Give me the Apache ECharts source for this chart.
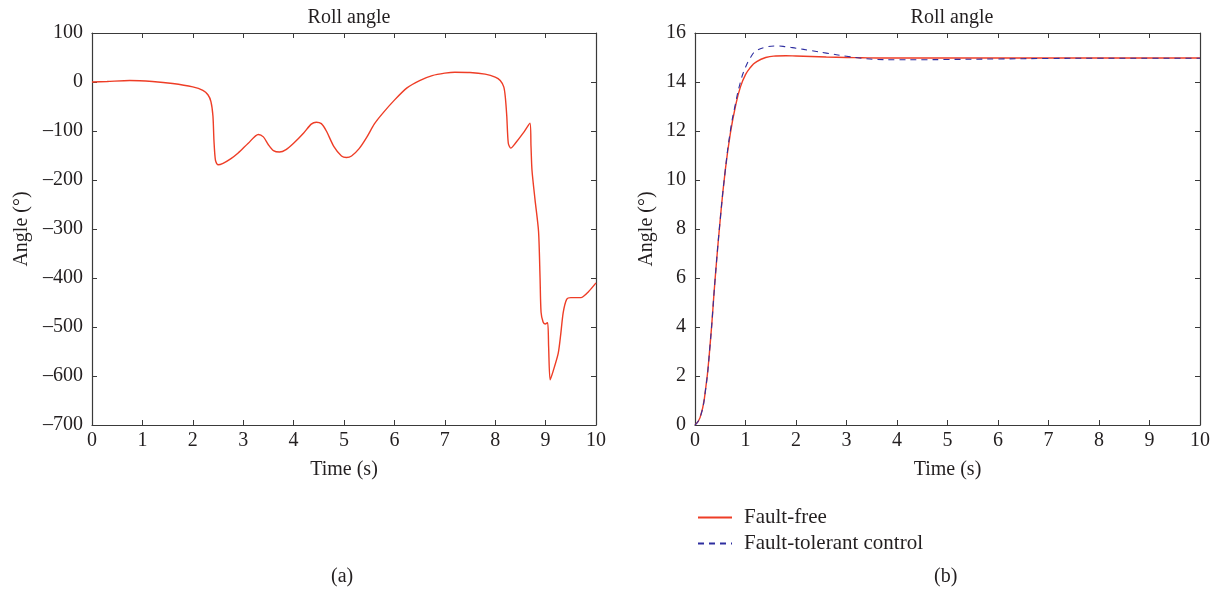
<!DOCTYPE html>
<html>
<head>
<meta charset="utf-8">
<script src="https://cdn.jsdelivr.net/npm/echarts@6/dist/echarts.min.js"></script>
<style>
html,body{margin:0;padding:0;background:#fff;}
#c{width:1223px;height:597px;}
</style>
</head>
<body>
<div id="c"></div>
<script>
// ---- data ----
const titleA = 'Roll angle';
const titleB = 'Roll angle';
const xName = 'Time (s)';
const yName = 'Angle (°)';
const seriesNames = ['Fault-free', 'Fault-tolerant control'];

const timeA = [0,0.3,0.75,1.2,1.6,2.0,2.2,2.3,2.36,2.4,2.42,2.45,2.5,2.6,2.75,2.9,3.1,3.3,3.4,3.5,3.6,3.72,3.85,4.0,4.2,4.35,4.45,4.55,4.65,4.8,4.95,5.05,5.15,5.3,5.45,5.6,5.75,6.0,6.25,6.5,6.75,7.0,7.2,7.5,7.8,8.0,8.1,8.17,8.2,8.23,8.26,8.31,8.4,8.55,8.69,8.71,8.73,8.79,8.86,8.89,8.91,8.95,8.99,9.04,9.06,9.09,9.15,9.25,9.3,9.35,9.42,9.5,9.7,9.85,10];
const rollA = [0,1,3,1,-3,-10,-17,-26,-40,-70,-120,-160,-169,-166,-157,-145,-125,-107,-112,-128,-140,-143,-138,-125,-104,-86,-82,-85,-100,-132,-151,-154,-151,-136,-113,-86,-66,-37,-12,3,13,18,20,19.5,16,10,3,-10,-30,-70,-125,-135,-125,-105,-84,-130,-180,-240,-305,-400,-470,-490,-494,-491,-540,-608,-590,-554,-515,-470,-443,-440,-440,-428,-410];

const timeB = [0,0.1,0.2,0.3,0.4,0.5,0.6,0.7,0.8,0.9,1.0,1.1,1.2,1.4,1.6,1.8,2.0,2.3,2.6,3.0,3.3,3.6,4,4.5,5,6,7,8,9,10];
const faultFree = [0,0.3,1.3,3.3,6.0,8.4,10.4,11.9,13.0,13.8,14.3,14.6,14.8,15.0,15.06,15.07,15.06,15.04,15.02,15.0,14.99,14.98,14.98,14.98,14.98,14.98,14.98,14.98,14.98,14.98];
const faultTolerant = [0,0.3,1.3,3.3,6.0,8.4,10.4,12.0,13.1,14.0,14.6,15.0,15.25,15.42,15.47,15.44,15.38,15.28,15.18,15.05,14.97,14.92,14.91,14.91,14.92,14.94,14.96,14.97,14.97,14.97];

const zip = (xs, ys) => xs.map((x, i) => [x, ys[i]]);

// ---- styles ----
const FONT = 'Liberation Serif';
const TXT = '#231f20';
const AX = '#3a3a3a';
const FS = 20;

function xAxes(gi) {
  const base = {gridIndex: gi, type: 'value', min: 0, max: 10, interval: 1,
    axisLine: {onZero: false, lineStyle: {color: AX, width: 1.2}},
    axisTick: {inside: true, length: 5, lineStyle: {color: AX}},
    splitLine: {show: false}};
  return [
    Object.assign({}, base, {position: 'bottom', name: xName, nameLocation: 'middle', nameGap: 35,
      nameTextStyle: {fontFamily: FONT, fontSize: FS, color: TXT},
      axisLabel: {fontFamily: FONT, fontSize: FS, color: TXT, margin: 6}}),
    Object.assign({}, base, {position: 'top', axisLabel: {show: false}})
  ];
}
function yAxes(gi, min, max, interval, nameGap) {
  const base = {gridIndex: gi, type: 'value', min: min, max: max, interval: interval,
    axisLine: {onZero: false, lineStyle: {color: AX, width: 1.2}},
    axisTick: {inside: true, length: 5, lineStyle: {color: AX}},
    splitLine: {show: false}};
  return [
    Object.assign({}, base, {position: 'left', name: yName, nameLocation: 'middle', nameGap: nameGap,
      nameTextStyle: {fontFamily: FONT, fontSize: FS, color: TXT},
      axisLabel: {fontFamily: FONT, fontSize: FS, color: TXT, margin: 9,
        formatter: v => (v < 0 ? '\u2013' + Math.abs(v) : String(v))}}),
    Object.assign({}, base, {position: 'right', axisLabel: {show: false}})
  ];
}

const chart = echarts.init(document.getElementById('c'));
chart.setOption({
  backgroundColor: '#fff',
  animation: false,
  title: [
    {text: titleA, left: 344, top: 3, textAlign: 'center', textStyle: {fontFamily: FONT, fontSize: FS, fontWeight: 'normal', color: TXT}},
    {text: titleB, left: 947, top: 3, textAlign: 'center', textStyle: {fontFamily: FONT, fontSize: FS, fontWeight: 'normal', color: TXT}}
  ],
  grid: [
    {left: 92, top: 33, width: 504, height: 392},
    {left: 695, top: 33, width: 505, height: 392}
  ],
  xAxis: [].concat(xAxes(0), xAxes(1)),
  yAxis: [].concat(yAxes(0, -700, 100, 100, 60), yAxes(1, 0, 16, 2, 38)),
  legend: {
    data: seriesNames, orient: 'vertical', left: 692, top: 502, itemWidth: 34, itemHeight: 14, itemGap: 5,
    itemStyle: {opacity: 0},
    textStyle: {fontFamily: FONT, fontSize: 21, color: TXT, padding: [0, 0, 0, 7]}
  },
  graphic: [
    {type: 'text', left: 331, top: 567, style: {text: '(a)', font: '20px "Liberation Serif"', fill: TXT}},
    {type: 'text', left: 934, top: 567, style: {text: '(b)', font: '20px "Liberation Serif"', fill: TXT}}
  ],
  series: [
    {type: 'line', xAxisIndex: 0, yAxisIndex: 0, data: zip(timeA, rollA), symbol: 'none', smooth: 0.25,
      lineStyle: {color: '#ee3d26', width: 1.4}, itemStyle: {color: '#ee3d26'}},
    {name: seriesNames[0], type: 'line', xAxisIndex: 2, yAxisIndex: 2, data: zip(timeB, faultFree), symbol: 'none', smooth: true,
      lineStyle: {color: '#ee3d26', width: 1.4}, itemStyle: {color: '#ee3d26'}},
    {name: seriesNames[1], type: 'line', xAxisIndex: 2, yAxisIndex: 2, data: zip(timeB, faultTolerant), symbol: 'none', smooth: true,
      lineStyle: {color: '#2e2ea0', width: 1.1, type: [6, 5]}, itemStyle: {color: '#2e2ea0'}}
  ]
});
</script>
</body>
</html>
